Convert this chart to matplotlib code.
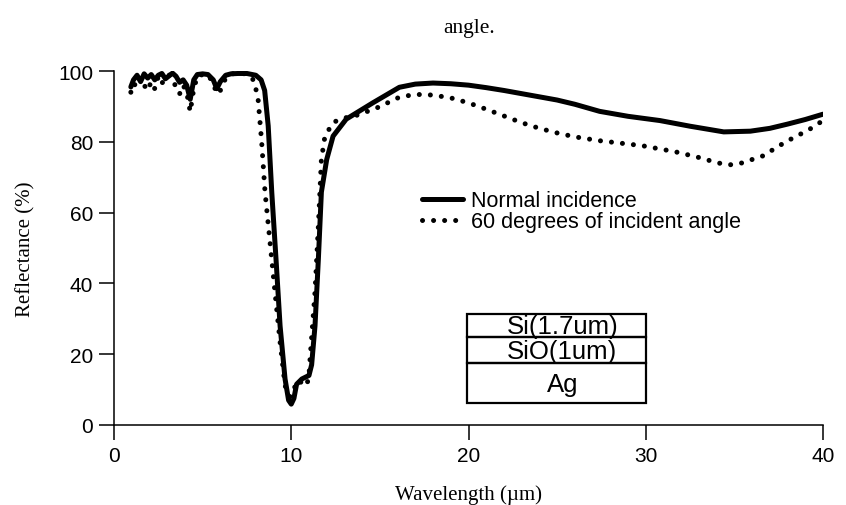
import matplotlib
matplotlib.use("Agg")
import matplotlib.pyplot as plt
from matplotlib.patches import Rectangle
from matplotlib.lines import Line2D

# Normal incidence (solid)
normal_x = [0.95, 1.1, 1.3, 1.5, 1.7, 1.9, 2.1, 2.3, 2.5, 2.7, 2.9, 3.1, 3.3, 3.5,
            3.7, 3.9, 4.1, 4.3, 4.5, 4.7, 5.0, 5.3, 5.6, 5.8, 6.0, 6.3, 6.6, 7.0,
            7.5, 8.0, 8.3, 8.5, 8.7, 8.9, 9.14, 9.37, 9.65, 9.85, 10.0, 10.15,
            10.3, 10.6, 11.0, 11.15, 11.34, 11.53, 11.7, 12.0, 12.36, 13.1, 14.6,
            16.1, 17.0, 18.0, 19.0, 20.0, 21.0, 22.0, 23.0, 24.0, 25.0, 26.0,
            27.4, 29.0, 30.8, 32.5, 34.4, 35.9, 37.0, 38.0, 39.0, 40.0]
normal_y = [95.5, 97.5, 98.8, 97.0, 99.2, 98.0, 99.0, 97.5, 98.8, 99.3, 97.8, 98.6,
            99.4, 98.5, 96.8, 97.5, 96.0, 92.0, 97.5, 99.0, 99.2, 99.0, 97.5, 95.0,
            97.0, 98.8, 99.2, 99.3, 99.3, 98.8, 97.5, 94.5, 84.5, 65.8, 46.9, 28.0,
            13.0, 7.0, 5.9, 7.5, 11.5, 13.0, 14.0, 17.0, 28.0, 46.9, 65.8, 75.0,
            81.6, 86.4, 91.0, 95.4, 96.3, 96.6, 96.4, 96.0, 95.3, 94.5, 93.6, 92.7,
            91.8, 90.6, 88.6, 87.2, 86.0, 84.4, 82.8, 83.0, 83.8, 85.0, 86.3, 87.8]

# 60 degrees of incident angle (dotted)
oblique_x = [0.95, 1.1, 1.3, 1.5, 1.7, 1.9, 2.1, 2.3, 2.5, 2.7, 2.9, 3.1, 3.3, 3.5,
             3.7, 3.9, 4.1, 4.3, 4.5, 4.7, 5.0, 5.3, 5.6, 5.8, 6.0, 6.3, 6.6, 7.0,
             7.5, 7.9, 8.13, 8.33, 8.52, 8.8, 9.08, 9.37, 9.65, 9.93, 10.1, 10.3,
             10.6, 10.87, 11.0, 11.06, 11.34, 11.53, 11.7, 11.9, 12.37, 12.9, 13.7,
             14.8, 16.1, 17.0, 18.0, 19.0, 20.0, 21.0, 22.0, 23.0, 24.0, 25.0, 26.0,
             27.4, 29.8, 31.65, 32.9, 34.1, 34.75, 35.4, 36.6, 37.9, 39.2, 40.0]
oblique_y = [94.0, 96.5, 95.5, 98.0, 96.0, 94.5, 97.0, 95.0, 98.5, 96.5, 98.0, 99.0,
             97.5, 95.5, 93.5, 96.0, 94.0, 88.5, 95.0, 98.5, 99.0, 99.0, 96.5, 93.5,
             94.5, 98.0, 99.2, 99.3, 99.2, 97.3, 92.0, 80.0, 65.8, 51.7, 37.6, 23.4,
             11.1, 8.0, 9.0, 12.5, 12.0, 11.1, 14.0, 18.6, 37.6, 56.3, 75.0, 81.6,
             85.5, 86.6, 87.5, 89.5, 92.6, 93.4, 93.2, 92.4, 91.0, 89.2, 87.3, 85.4,
             83.8, 82.5, 81.4, 80.3, 78.9, 77.2, 75.7, 74.0, 73.5, 74.0, 76.0, 80.0,
             83.4, 86.0]

# layer stack sketch: (label, bottom, top)
layers = [("Si(1.7um)", 24.9, 31.4), ("SiO(1um)", 17.5, 24.9), ("Ag", 6.2, 17.5)]

SANS = "Liberation Sans"
SERIF = "Liberation Serif"

fig = plt.figure(figsize=(8.46, 5.06), dpi=100)
ax = fig.add_axes([114 / 846, 80 / 506, (823 - 114) / 846, (426 - 72) / 506])

dots = dict(linestyle=(0, (0.01, 2.2)), dash_capstyle="round")
ax.plot(normal_x, normal_y, color="black", lw=3.6, solid_capstyle="round",
        solid_joinstyle="round", label="Normal incidence")
ax.plot(oblique_x, oblique_y, color="black", lw=3.6, label="60 degrees of incident angle", **dots)

ax.set_xlim(0, 40)
ax.set_ylim(0, 100)
ax.set_xticks([0, 10, 20, 30, 40])
ax.set_yticks([0, 20, 40, 60, 80, 100])
for side in ("top", "right"):
    ax.spines[side].set_visible(False)
for side in ("left", "bottom"):
    ax.spines[side].set_linewidth(1.1)
ax.tick_params(direction="out", length=11, width=1.1, pad=4, labelsize=15)
for lab in ax.get_xticklabels() + ax.get_yticklabels():
    lab.set_family(SANS)

ax.set_xlabel("Wavelength (\u00b5m)", family=SERIF, fontsize=15, labelpad=14)
ax.set_ylabel("Reflectance (%)", family=SERIF, fontsize=15, labelpad=16)
fig.text(0.555, 1 - 28 / 506, "angle.", family=SERIF, fontsize=15.5,
         ha="center", va="center")

handles = [Line2D([], [], color="black", lw=3.6, solid_capstyle="round"),
           Line2D([], [], color="black", lw=3.6, **dots)]
ax.legend(handles, ["Normal incidence", "60 degrees of incident angle"],
          loc="upper left", bbox_to_anchor=(17.4, 66.3), bbox_transform=ax.transData,
          frameon=False, handlelength=1.9, handletextpad=0.35, labelspacing=0.0,
          borderaxespad=0, borderpad=0, prop={"family": SANS, "size": 15.5})

for name, lo, hi in layers:
    ax.add_patch(Rectangle((19.9, lo), 10.1, hi - lo, fill=False,
                           edgecolor="black", lw=1.6))
    ax.text(25.3, (lo + hi) / 2 - 0.3, name, family=SANS, fontsize=18.5,
            ha="center", va="center")

fig.savefig("out.png", dpi=100)
